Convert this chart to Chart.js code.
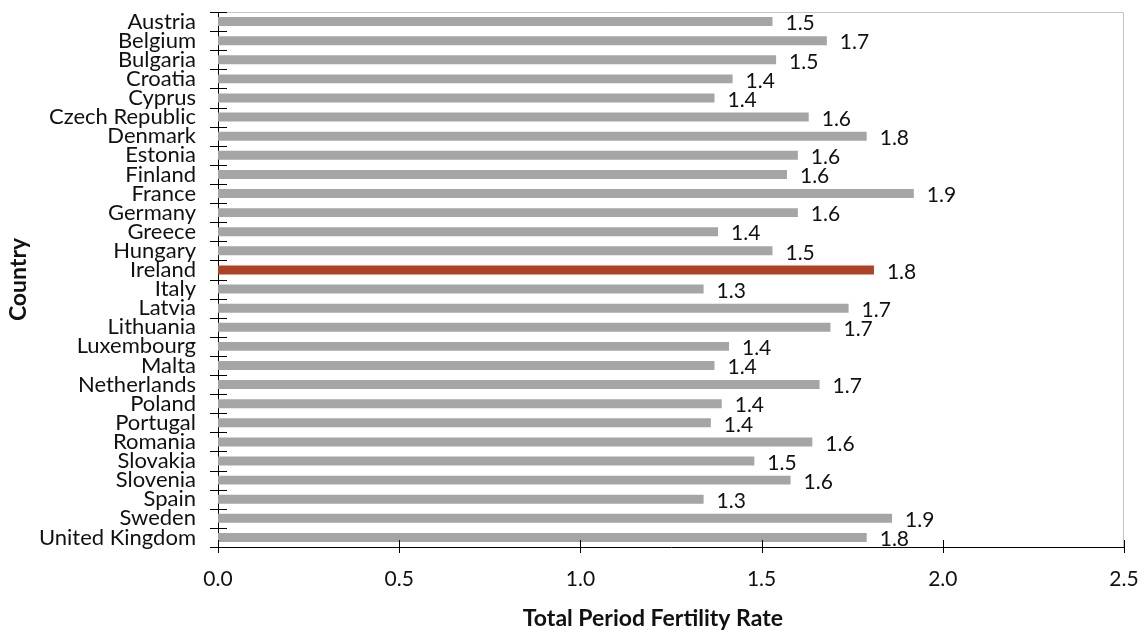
<!DOCTYPE html>
<html>
<head>
<meta charset="utf-8">
<script src="https://cdn.jsdelivr.net/npm/chart.js@4"></script>
<style>
    html, body { margin: 0; padding: 0; background: #fff; }
    #wrap { width: 1146px; height: 635px; }
</style>
</head>
<body>
<div id="wrap"><canvas id="fertilityChart" width="1146" height="635"></canvas></div>
<script>
// Data
const countries = [
    'Austria', 'Belgium', 'Bulgaria', 'Croatia', 'Cyprus', 'Czech Republic', 'Denmark',
    'Estonia', 'Finland', 'France', 'Germany', 'Greece', 'Hungary', 'Ireland', 'Italy',
    'Latvia', 'Lithuania', 'Luxembourg', 'Malta', 'Netherlands', 'Poland', 'Portugal',
    'Romania', 'Slovakia', 'Slovenia', 'Spain', 'Sweden', 'United Kingdom'
];
const fertilityRates = [
    1.53, 1.68, 1.54, 1.42, 1.37, 1.63, 1.79,
    1.60, 1.57, 1.92, 1.60, 1.38, 1.53, 1.81, 1.34,
    1.74, 1.69, 1.41, 1.37, 1.66, 1.39, 1.36,
    1.64, 1.48, 1.58, 1.34, 1.86, 1.79
];
const highlightCountry = 'Ireland';
const xTicks = [0, 0.5, 1.0, 1.5, 2.0, 2.5];
const xTitle = 'Total Period Fertility Rate';
const yTitle = 'Country';

const COLORS = {
    bar: '#a5a5a5',
    highlight: '#ae4227',
    text: '#111111',
    frame: '#c4c4c4'
};
const FONT = 'Lato, "Open Sans", sans-serif';

// ticks that cross the axis lines + grey frame on top/right + value labels + x title
const decorations = {
    id: 'decorations',
    afterDraw(chart) {
        const { ctx, chartArea: a, scales: { x, y } } = chart;
        ctx.save();

        // grey frame top + right
        ctx.strokeStyle = COLORS.frame;
        ctx.lineWidth = 1;
        ctx.beginPath();
        ctx.moveTo(a.left, a.top + 0.5);
        ctx.lineTo(a.right - 0.5, a.top + 0.5);
        ctx.lineTo(a.right - 0.5, a.bottom);
        ctx.stroke();

        // tick marks
        ctx.strokeStyle = '#000';
        ctx.beginPath();
        for (let i = 0; i <= countries.length; i++) {
            const py = Math.round(y.getPixelForValue(i - 0.5)) + 0.5;
            ctx.moveTo(a.left - 8, py);
            ctx.lineTo(a.left + 9, py);
        }
        xTicks.forEach(v => {
            const px = Math.round(x.getPixelForValue(v)) + 0.5;
            ctx.moveTo(px, a.bottom - 7);
            ctx.lineTo(px, a.bottom + 6);
        });
        ctx.stroke();

        // value labels
        ctx.fillStyle = COLORS.text;
        ctx.font = '21px ' + FONT;
        ctx.textAlign = 'left';
        ctx.textBaseline = 'middle';
        chart.getDatasetMeta(0).data.forEach((bar, i) => {
            ctx.fillText(fertilityRates[i].toFixed(1), bar.x + 13, bar.y + 2);
        });

        // x axis title, sits a bit left of the plot centre in the original
        ctx.font = 'bold 23px ' + FONT;
        ctx.textAlign = 'center';
        ctx.fillText(xTitle, x.getPixelForValue(1.2), x.bottom - 16);
        ctx.restore();
    }
};

new Chart(document.getElementById('fertilityChart'), {
    type: 'bar',
    data: {
        labels: countries,
        datasets: [{
            data: fertilityRates,
            backgroundColor: countries.map(c => c === highlightCountry ? COLORS.highlight : COLORS.bar),
            barPercentage: 0.47,
            categoryPercentage: 1
        }]
    },
    options: {
        indexAxis: 'y',
        responsive: false,
        animation: false,
        layout: { padding: { top: 12, right: 22, left: 0, bottom: 0 } },
        plugins: { legend: { display: false }, tooltip: { enabled: false } },
        scales: {
            x: {
                min: 0, max: 2.5,
                afterBuildTicks: s => { s.ticks = xTicks.map(v => ({ value: v })); },
                afterFit: s => { s.height = 88; s.paddingLeft = 0; s.paddingRight = 0; },
                grid: { display: false, drawTicks: false },
                border: { display: true, color: '#000', width: 1 },
                ticks: {
                    color: COLORS.text,
                    padding: 20,
                    font: { family: FONT, size: 21 },
                    callback: v => Number(v).toFixed(1)
                },
                title: { display: false }
            },
            y: {
                afterFit: s => { s.width = 218; s.paddingTop = 0; s.paddingBottom = 0; },
                grid: { display: false, drawTicks: false },
                border: { display: true, color: '#000', width: 1 },
                ticks: {
                    color: COLORS.text,
                    padding: 22,
                    autoSkip: false,
                    font: { family: FONT, size: 22 }
                },
                title: {
                    display: true,
                    text: yTitle,
                    color: COLORS.text,
                    font: { family: FONT, size: 23, weight: 'bold' },
                    padding: { top: 5, bottom: 0 }
                }
            }
        }
    },
    plugins: [decorations]
});
</script>
</body>
</html>
